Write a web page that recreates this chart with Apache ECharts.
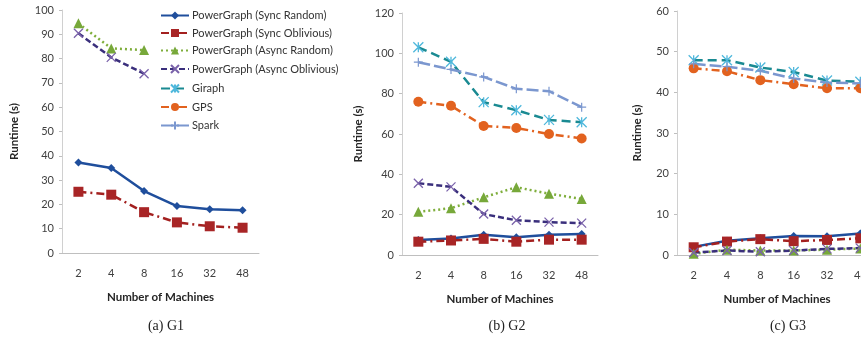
<!DOCTYPE html>
<html>
<head>
<meta charset="utf-8">
<script src="https://cdn.jsdelivr.net/npm/echarts@6/dist/echarts.min.js"></script>
<style>
  html, body { margin: 0; padding: 0; background: #fff; }
  #chart { width: 861px; height: 339px; }
</style>
</head>
<body>
<div id="chart"></div>
<script>
// categories
const machines = ['2', '4', '8', '16', '32', '48'];

// (a) G1
const g1SyncRandom = [37.2, 35, 25.5, 19.3, 18, 17.6];
const g1SyncOblivious = [25.2, 24, 16.8, 12.6, 11, 10.4];
const g1AsyncRandom = [94.5, 84.2, 83.5, null, null, null];
const g1AsyncOblivious = [90.4, 80.5, 73.8, null, null, null];

// (b) G2
const g2SyncRandom = [7.4, 8.2, 10, 8.8, 10, 10.4];
const g2SyncOblivious = [6.6, 7.2, 8, 6.6, 7.6, 7.6];
const g2AsyncRandom = [21.4, 23.2, 28.6, 33.6, 30.4, 27.8];
const g2AsyncOblivious = [35.6, 33.8, 20.3, 17.2, 16.3, 15.8];
const g2Giraph = [103, 95.8, 75.8, 71.8, 67, 65.8];
const g2GPS = [76, 74, 64, 63, 60, 57.8];
const g2Spark = [95.6, 92, 88.3, 82.4, 81.2, 73.3];

// (c) G3
const g3SyncRandom = [2, 3.5, 4.1, 4.7, 4.6, 5.3];
const g3SyncOblivious = [1.9, 3.3, 3.9, 3.4, 3.7, 4.1];
const g3AsyncRandom = [0.3, 1.3, 1.1, 1.1, 1.3, 1.6];
const g3AsyncOblivious = [0.6, 1.1, 0.8, 1.1, 1.5, 1.7];
const g3Giraph = [47.9, 47.9, 46.1, 45, 42.9, 42.6];
const g3GPS = [45.9, 45.2, 43, 42, 41, 41];
const g3Spark = [47, 46.3, 45.3, 43.4, 42.4, 42.2];

const names = {
    syncRandom: 'PowerGraph (Sync Random)',
    syncOblivious: 'PowerGraph (Sync Oblivious)',
    asyncRandom: 'PowerGraph (Async Random)',
    asyncOblivious: 'PowerGraph (Async Oblivious)',
    giraph: 'Giraph',
    gps: 'GPS',
    spark: 'Spark'
};

const FONT = 'Lato';
const TEXT = '#404040';

// line look per system
const styles = {
    syncRandom: {
        line: { color: '#1f4e9c', width: 2.5, type: 'solid' },
        symbol: 'diamond', symbolSize: 8,
        item: { color: '#1f4e9c' }
    },
    syncOblivious: {
        line: { color: '#a3201f', width: 2.5, type: [8, 4, 2, 4] },
        symbol: 'rect', symbolSize: 10,
        item: { color: '#a82526' }
    },
    asyncRandom: {
        line: { color: '#7fae3c', width: 2.5, type: [2, 3] },
        symbol: 'triangle', symbolSize: 10,
        item: { color: '#77a83a' }
    },
    asyncOblivious: {
        line: { color: '#3a2f7c', width: 2.5, type: [6, 3] },
        symbol: 'path://M0,0L10,10M10,0L0,10', symbolSize: 9,
        item: { color: 'none', borderColor: '#7a62aa', borderWidth: 1.3 }
    },
    giraph: {
        line: { color: '#1a8a92', width: 2.5, type: [9, 5] },
        symbol: 'path://M0,0L10,10M10,0L0,10M5,0L5,10', symbolSize: 10,
        item: { color: 'none', borderColor: '#4fb8dc', borderWidth: 1.3 }
    },
    gps: {
        line: { color: '#e2621f', width: 2.5, type: [8, 4, 2, 4] },
        symbol: 'circle', symbolSize: 10,
        item: { color: '#e2621f' }
    },
    spark: {
        line: { color: '#7b97cf', width: 2.5, type: [12, 4] },
        symbol: 'path://M0,5L10,5M5,0L5,10', symbolSize: 9,
        item: { color: 'none', borderColor: '#7b97cf', borderWidth: 1.2 }
    }
};

function makeSeries(key, data, idx) {
    const s = styles[key];
    return {
        name: names[key],
        type: 'line',
        xAxisIndex: idx,
        yAxisIndex: idx,
        data: data,
        symbol: s.symbol,
        symbolSize: s.symbolSize,
        showSymbol: true,
        lineStyle: s.line,
        itemStyle: s.item,
        connectNulls: false,
        animation: false
    };
}

// third panel runs past the right edge, as in the source figure
const grids = [
    { left: 62, top: 10, width: 197, height: 243, outerBoundsMode: 'none' },
    { left: 402, top: 13, width: 196, height: 242, outerBoundsMode: 'none' },
    { left: 677, top: 11, width: 200, height: 244, outerBoundsMode: 'none' }
];
const yMax = [100, 120, 60];
const yStep = [10, 20, 10];
const yNameGap = [42, 38, 34];

const xAxes = grids.map((g, i) => ({
    type: 'category',
    gridIndex: i,
    data: machines,
    boundaryGap: true,
    axisLine: { lineStyle: { color: '#bfbfbf', width: 1 } },
    axisTick: { show: false },
    axisLabel: { color: TEXT, fontFamily: FONT, fontSize: 11, margin: 15 },
    name: 'Number of Machines',
    nameLocation: 'middle',
    nameGap: 38,
    nameTextStyle: { color: '#262626', fontFamily: FONT, fontWeight: 'bold', fontSize: 11.5 }
}));

const yAxes = grids.map((g, i) => ({
    type: 'value',
    gridIndex: i,
    min: 0,
    max: yMax[i],
    interval: yStep[i],
    splitLine: { show: false },
    axisLine: { show: true, lineStyle: { color: '#d0d0d0', width: 1 } },
    axisTick: { show: true, length: 3, lineStyle: { color: '#bfbfbf' } },
    axisLabel: { color: TEXT, fontFamily: FONT, fontSize: 11, margin: 8 },
    name: 'Runtime (s)',
    nameLocation: 'middle',
    nameRotate: 90,
    nameGap: yNameGap[i],
    nameTextStyle: { color: '#262626', fontFamily: FONT, fontWeight: 'bold', fontSize: 11.5 }
}));

const series = [
    makeSeries('syncRandom', g1SyncRandom, 0),
    makeSeries('syncOblivious', g1SyncOblivious, 0),
    makeSeries('asyncRandom', g1AsyncRandom, 0),
    makeSeries('asyncOblivious', g1AsyncOblivious, 0),

    makeSeries('syncRandom', g2SyncRandom, 1),
    makeSeries('syncOblivious', g2SyncOblivious, 1),
    makeSeries('asyncRandom', g2AsyncRandom, 1),
    makeSeries('asyncOblivious', g2AsyncOblivious, 1),
    makeSeries('giraph', g2Giraph, 1),
    makeSeries('gps', g2GPS, 1),
    makeSeries('spark', g2Spark, 1),

    makeSeries('syncRandom', g3SyncRandom, 2),
    makeSeries('syncOblivious', g3SyncOblivious, 2),
    makeSeries('asyncRandom', g3AsyncRandom, 2),
    makeSeries('asyncOblivious', g3AsyncOblivious, 2),
    makeSeries('giraph', g3Giraph, 2),
    makeSeries('gps', g3GPS, 2),
    makeSeries('spark', g3Spark, 2)
];

const captionStyle = { fontFamily: 'Liberation Serif', fontWeight: 'normal', fontSize: 14, color: '#222' };

const chart = echarts.init(document.getElementById('chart'));
chart.setOption({
    backgroundColor: '#ffffff',
    animation: false,
    title: [
        { text: '(a) G1', left: 161, top: 314, textAlign: 'center', textStyle: captionStyle },
        { text: '(b) G2', left: 502, top: 314, textAlign: 'center', textStyle: captionStyle },
        { text: '(c) G3', left: 783, top: 314, textAlign: 'center', textStyle: captionStyle }
    ],
    legend: {
        orient: 'vertical',
        left: 155,
        top: 5,
        itemWidth: 28,
        itemHeight: 10,
        itemGap: 6.5,
        data: Object.values(names),
        textStyle: { color: '#333', fontFamily: FONT, fontSize: 11, padding: [0, 0, 0, -2] }
    },
    grid: grids,
    xAxis: xAxes,
    yAxis: yAxes,
    series: series
});
</script>
</body>
</html>
